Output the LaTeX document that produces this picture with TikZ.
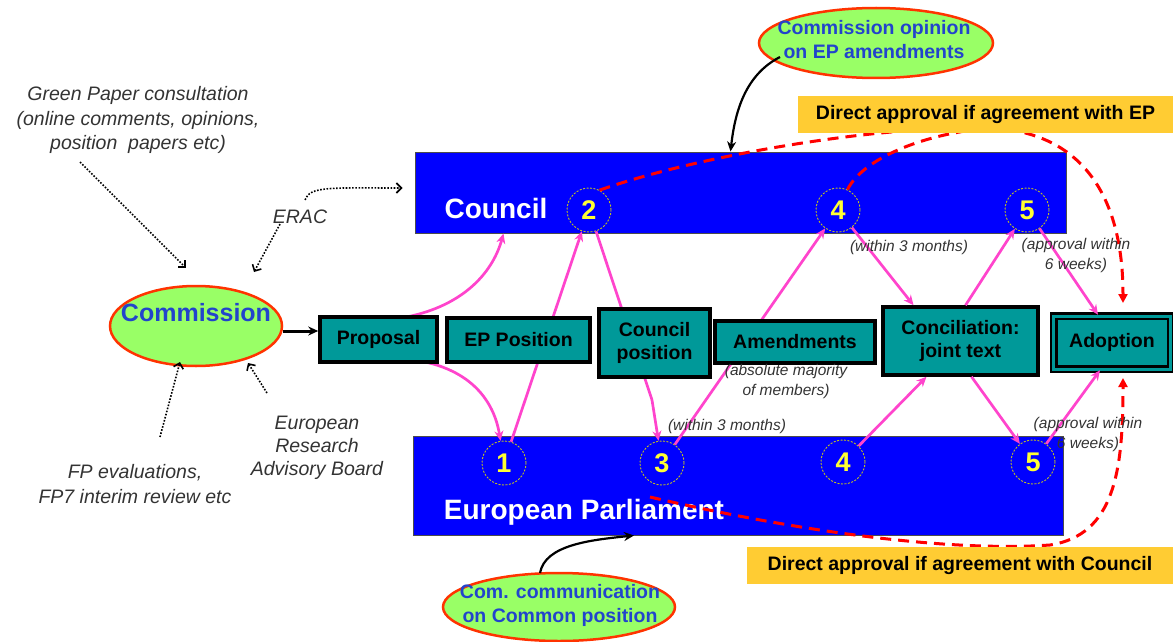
\documentclass[tikz,border=0pt]{standalone}
\usepackage{fontspec}
\setmainfont{Liberation Sans}
\usetikzlibrary{arrows.meta,shapes.geometric,calc}
\definecolor{cblue}{HTML}{0000FF}
\definecolor{tealbox}{HTML}{009999}
\definecolor{lgreen}{HTML}{99FF66}
\definecolor{ored}{HTML}{FF3300}
\definecolor{tblue}{HTML}{2244CC}
\definecolor{lyellow}{HTML}{FFCC33}
\definecolor{pinkm}{HTML}{FF44CC}
\definecolor{numy}{HTML}{FFFF33}
\definecolor{gtext}{HTML}{333333}
\tikzset{
  house/.style={rectangle, draw=gray!60!black, fill=cblue, line width=1pt, inner sep=0pt},
  bigw/.style={font=\bfseries\fontsize{28}{32}\selectfont, text=white, inner sep=0pt},
  numc/.style={circle, draw=numy!75!black, dash pattern=on 2pt off 1.5pt, line width=0.9pt,
    minimum size=44pt, inner sep=0pt, text=numy, font=\bfseries\fontsize{27}{27}\selectfont},
  boxs/.style={rectangle, draw=black, line width=3.5pt, fill=tealbox, align=center,
    inner sep=0pt, font=\bfseries\fontsize{19.5}{23}\selectfont},
  oval/.style={ellipse, draw=ored, line width=2.5pt, fill=lgreen, inner sep=0pt},
  ovaltext/.style={text=tblue, align=center, inner sep=0pt, font=\bfseries\fontsize{19.5}{24}\selectfont},
  note/.style={font=\itshape\fontsize{19.5}{24.5}\selectfont, text=gtext, align=center, inner sep=0pt},
  smallnote/.style={font=\itshape\fontsize{15.5}{20}\selectfont, text=gtext, align=center, inner sep=0pt},
  flow/.style={draw=pinkm, line width=2.7pt, -{Stealth[length=10pt,width=9pt]}},
  dots/.style={draw=black, line width=1.6pt, dash pattern=on 1.6pt off 1.6pt,
    -{Straight Barb[length=5pt,width=10pt]}},
  reddash/.style={draw=red, line width=3pt, dash pattern=on 11pt off 7pt,
    -{Triangle[length=9pt,width=9pt]}},
  reddashplain/.style={draw=red, line width=3pt, dash pattern=on 11pt off 7pt},
  banner/.style={rectangle, fill=lyellow, inner sep=0pt, font=\bfseries\fontsize{19.5}{23}\selectfont},
  blk/.style={draw=black, line width=2.2pt, -{Stealth[length=10pt,width=9pt]}},
}
\begin{document}
\begin{tikzpicture}[x=1pt,y=-1pt]
\useasboundingbox (0,0) rectangle (1173,642);

% institutions
\node[house, minimum width=651pt, minimum height=81pt] (council) at (740.5,192.5) {};
\node[house, minimum width=650pt, minimum height=99pt] (ep) at (738,485.5) {};
\node[bigw] (councillbl) at (496,208) {Council};
\node[bigw] (eplbl) at (584,512) {European Parliament};

% step circles
\node[numc] (c2) at (589,210) {2};
\node[numc] (c4) at (838,210) {4};
\node[numc] (c5) at (1027,210) {5};
\node[numc] (e1) at (504,463) {1};
\node[numc] (e3) at (662,463) {3};
\node[numc] (e4) at (843,462) {4};
\node[numc] (e5) at (1033,462) {5};

% ellipses
\node[oval, minimum width=172pt, minimum height=80pt] (comm) at (196,326) {};
\node[ovaltext, font=\bfseries\fontsize{25}{28}\selectfont] (commlbl) at ([yshift=13pt]comm.center) {Commission};
\node[oval, minimum width=234pt, minimum height=70pt] (opinion) at (876,43) {};
\node[ovaltext] (opinionlbl) at (874,40) {Commission opinion\\on EP amendments};
\node[oval, minimum width=232pt, minimum height=68pt] (comcomm) at (559,607) {};
\node[ovaltext] (comcommlbl) at (560,605) {Com. communication\\on Common position};

% red dashed direct approvals
\coordinate (rstart) at (650,497);
\draw[reddash] (c2.62) .. controls (700,155) and (880,125) .. (990,128)
   .. controls (1085,132) and (1123,200) .. (1123,303);
\draw[reddashplain] (c4.65) .. controls (862,160) and (920,134) .. (990,128);
\draw[reddash] (rstart) .. controls (800,532) and (950,552) .. (1050,545)
   .. controls (1115,535) and (1123,470) .. (1123,378);

% pink flows (behind the boxes)
\draw[flow] (401,318) .. controls (460,308) and (492,275) .. ([xshift=-237pt]council.south);
\draw[flow] (420,361) .. controls (470,370) and (494,400) .. (e1);
\draw[flow] (e1) -- (c2);
\draw[draw=pinkm, line width=2.7pt] (c2) -- (652,400);
\draw[flow] (652,400) -- (e3);
\draw[flow] (e3) -- (c4);

% boxes
\node[boxs, minimum width=117pt, minimum height=45pt] (proposal) at (378.5,339.5) {Proposal};
\node[boxs, minimum width=143pt, minimum height=44pt] (eppos) at (518.5,340) {EP Position};
\node[boxs, line width=4.5pt, minimum width=111pt, minimum height=68pt] (cpos) at (654.5,343) {Council\\position};
\node[boxs, minimum width=160pt, minimum height=42pt] (amend) at (795,342) {Amendments};
\node[boxs, minimum width=155pt, minimum height=68pt] (concil) at (960.5,341) {Conciliation:\\joint text};
\node[boxs, double=tealbox, double distance=3pt, line width=2.5pt, minimum width=117pt, minimum height=53pt] (adopt) at (1112,342.5) {Adoption};

% pink flows to/from conciliation and adoption
\draw[flow] (c4) -- ([xshift=-47pt]concil.north);
\draw[flow] (e4) -- ([xshift=-34pt]concil.south);
\draw[flow] ([xshift=5pt]concil.north) -- (c5);
\draw[flow] ([xshift=11pt]concil.south) -- (e5);
\draw[flow] (c5) -- ([xshift=-14pt]adopt.north);
\draw[flow] (e5) -- ([xshift=-12pt]adopt.south);

% banners
\node[banner, minimum width=375pt, minimum height=37pt] (banEP) at (985.5,114.5) {Direct approval if agreement with EP};
\node[banner, minimum width=426pt, minimum height=37pt] (banC) at (960,565.5) {Direct approval if agreement with Council};

% black arrows
\draw[blk, line width=3pt] ([yshift=-5pt]comm.east) -- ([yshift=-5pt]comm.east -| proposal.west);
\draw[blk] (780,57) .. controls (745,75) and (735,112) .. ([xshift=-10pt]council.north);
\draw[blk] (540,573) .. controls (545,545) and (590,540) .. ([xshift=-104pt]ep.south);

% left-hand inputs
\node[note] (green) at (138,120) {Green Paper consultation\\(online comments, opinions,\\position\ \ papers etc)};
\node[note] (erac) at (300,217) {ERAC};
\node[note] (fpeval) at (135,484) {FP evaluations,\\FP7 interim review etc};
\node[note, font=\itshape\fontsize{19.5}{23}\selectfont] (erab) at (317,448) {European\\Research\\Advisory Board};

\draw[dots] (80,162) -- (186,268);
\draw[dots] ([xshift=-20pt]erac.south) -- (254,272);
\draw[dots] ([xshift=5pt,yshift=10pt]erac.north) .. controls (310,186) and (330,188) .. ([xshift=-12pt,yshift=4.5pt]council.west);
\draw[dots] (160,437) -- (180,362);
\draw[dots] (267,393) -- (248,363);

% small annotations
\node[smallnote] (w3c) at (909,247) {(within 3 months)};
\node[smallnote] (appc) at (1076,255) {(approval within\\6 weeks)};
\node[smallnote] (absmaj) at (786,381) {(absolute majority\\of members)};
\node[smallnote] (w3e) at (727,426) {(within 3 months)};
\node[smallnote] (appe) at (1088,434) {(approval within\\6 weeks)};
\end{tikzpicture}
\end{document}
